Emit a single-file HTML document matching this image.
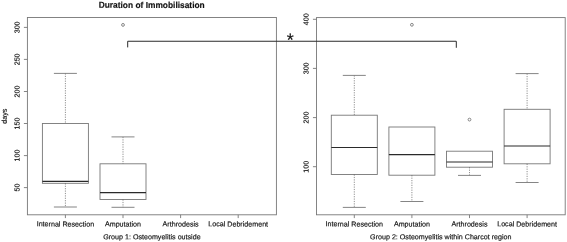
<!DOCTYPE html>
<html><head><meta charset="utf-8"><title>Duration of Immobilisation</title>
<style>
html,body{margin:0;padding:0;background:#fff;}
svg{display:block;}
text{font-family:"Liberation Sans",sans-serif;fill:#111;text-rendering:geometricPrecision;stroke:#111;stroke-width:0.16px;}
.t{font-size:7.13px;}
.ln{stroke:#777;stroke-width:0.9;fill:none;}
.med{stroke:#2a2a2a;stroke-width:1.2;fill:none;}
.dot{stroke:#555;stroke-width:0.65;fill:none;stroke-dasharray:1.2 1.2;}
.br{stroke:#2b2b2b;stroke-width:1.0;fill:none;stroke-linejoin:round;stroke-linecap:round;}
</style></head><body>
<svg width="567" height="242" viewBox="0 0 567 242">
<rect width="567" height="242" fill="#fff"/>

<rect class="ln" x="27.4" y="17.5" width="248.99999999999997" height="197.3"/>
<line class="ln" x1="23.9" x2="27.4" y1="187.6" y2="187.6"/>
<text class="t" text-anchor="middle" transform="translate(19.6,187.6) rotate(-90.05)">50</text>
<line class="ln" x1="23.9" x2="27.4" y1="155.6" y2="155.6"/>
<text class="t" text-anchor="middle" transform="translate(19.6,155.6) rotate(-90.05)">100</text>
<line class="ln" x1="23.9" x2="27.4" y1="123.5" y2="123.5"/>
<text class="t" text-anchor="middle" transform="translate(19.6,123.5) rotate(-90.05)">150</text>
<line class="ln" x1="23.9" x2="27.4" y1="91.5" y2="91.5"/>
<text class="t" text-anchor="middle" transform="translate(19.6,91.5) rotate(-90.05)">200</text>
<line class="ln" x1="23.9" x2="27.4" y1="59.4" y2="59.4"/>
<text class="t" text-anchor="middle" transform="translate(19.6,59.4) rotate(-90.05)">250</text>
<line class="ln" x1="23.9" x2="27.4" y1="27.4" y2="27.4"/>
<text class="t" text-anchor="middle" transform="translate(19.6,27.4) rotate(-90.05)">300</text>
<line class="ln" x1="65.4" x2="65.4" y1="214.8" y2="218.10000000000002"/>
<text class="t" text-anchor="middle" x="65.4" y="226.4" transform="rotate(0.05 65.4 226.4)">Internal Resection</text>
<line class="ln" x1="123.0" x2="123.0" y1="214.8" y2="218.10000000000002"/>
<text class="t" text-anchor="middle" x="123.0" y="226.4" transform="rotate(0.05 123.0 226.4)">Amputation</text>
<line class="ln" x1="180.6" x2="180.6" y1="214.8" y2="218.10000000000002"/>
<text class="t" text-anchor="middle" x="180.6" y="226.4" transform="rotate(0.05 180.6 226.4)">Arthrodesis</text>
<line class="ln" x1="238.2" x2="238.2" y1="214.8" y2="218.10000000000002"/>
<text class="t" text-anchor="middle" x="238.2" y="226.4" transform="rotate(0.05 238.2 226.4)">Local Debridement</text>
<text class="t" text-anchor="middle" x="151.9" y="239.3" transform="rotate(0.05 151.9 239.3)">Group 1: Osteomyelitis outside</text>
<text class="t" text-anchor="middle" transform="translate(6.8,116.2) rotate(-90.05)">days</text>
<rect class="ln" x="42.4" y="123.5" width="46" height="59.8"/>
<line class="med" x1="42.4" x2="88.4" y1="181.3" y2="181.3"/>
<line class="dot" x1="65.4" x2="65.4" y1="73.4" y2="123.5"/>
<line class="dot" x1="65.4" x2="65.4" y1="183.3" y2="207.0"/>
<line class="ln" x1="53.9" x2="76.9" y1="73.4" y2="73.4"/>
<line class="ln" x1="53.9" x2="76.9" y1="207.0" y2="207.0"/>
<rect class="ln" x="100.0" y="163.8" width="46" height="35.7"/>
<line class="med" x1="100.0" x2="146.0" y1="192.6" y2="192.6"/>
<line class="dot" x1="123.0" x2="123.0" y1="136.9" y2="163.8"/>
<line class="dot" x1="123.0" x2="123.0" y1="199.5" y2="207.3"/>
<line class="ln" x1="111.5" x2="134.5" y1="136.9" y2="136.9"/>
<line class="ln" x1="111.5" x2="134.5" y1="207.3" y2="207.3"/>
<circle class="ln" cx="123.0" cy="24.9" r="1.4"/>
<text text-anchor="middle" x="151.7" y="7.9" transform="rotate(0.05 151.7 7.9)" textLength="106" lengthAdjust="spacingAndGlyphs" style="font-size:8.7px;font-weight:bold;fill:#111">Duration of Immobilisation</text>
<rect class="ln" x="316.45" y="17.6" width="248.75000000000006" height="197.20000000000002"/>
<line class="ln" x1="312.95" x2="316.45" y1="166.7" y2="166.7"/>
<text class="t" text-anchor="middle" transform="translate(308.6,166.7) rotate(-90.05)">100</text>
<line class="ln" x1="312.95" x2="316.45" y1="117.6" y2="117.6"/>
<text class="t" text-anchor="middle" transform="translate(308.6,117.6) rotate(-90.05)">200</text>
<line class="ln" x1="312.95" x2="316.45" y1="68.4" y2="68.4"/>
<text class="t" text-anchor="middle" transform="translate(308.6,68.4) rotate(-90.05)">300</text>
<line class="ln" x1="312.95" x2="316.45" y1="19.3" y2="19.3"/>
<text class="t" text-anchor="middle" transform="translate(308.6,19.3) rotate(-90.05)">400</text>
<line class="ln" x1="354.3" x2="354.3" y1="214.8" y2="218.10000000000002"/>
<text class="t" text-anchor="middle" x="354.3" y="226.4" transform="rotate(0.05 354.3 226.4)">Internal Resection</text>
<line class="ln" x1="411.9" x2="411.9" y1="214.8" y2="218.10000000000002"/>
<text class="t" text-anchor="middle" x="411.9" y="226.4" transform="rotate(0.05 411.9 226.4)">Amputation</text>
<line class="ln" x1="469.5" x2="469.5" y1="214.8" y2="218.10000000000002"/>
<text class="t" text-anchor="middle" x="469.5" y="226.4" transform="rotate(0.05 469.5 226.4)">Arthrodesis</text>
<line class="ln" x1="527.1" x2="527.1" y1="214.8" y2="218.10000000000002"/>
<text class="t" text-anchor="middle" x="527.1" y="226.4" transform="rotate(0.05 527.1 226.4)">Local Debridement</text>
<text class="t" text-anchor="middle" x="440.8" y="239.3" transform="rotate(0.05 440.8 239.3)">Group 2: Osteomyelitis within Charcot region</text>
<rect class="ln" x="331.3" y="115.2" width="46" height="59.3"/>
<line class="med" x1="331.3" x2="377.3" y1="147.5" y2="147.5"/>
<line class="dot" x1="354.3" x2="354.3" y1="75.4" y2="115.2"/>
<line class="dot" x1="354.3" x2="354.3" y1="174.5" y2="207.4"/>
<line class="ln" x1="342.8" x2="365.8" y1="75.4" y2="75.4"/>
<line class="ln" x1="342.8" x2="365.8" y1="207.4" y2="207.4"/>
<rect class="ln" x="388.9" y="127.0" width="46" height="48.2"/>
<line class="med" x1="388.9" x2="434.9" y1="154.6" y2="154.6"/>
<line class="dot" x1="411.9" x2="411.9" y1="175.2" y2="201.5"/>
<line class="ln" x1="400.4" x2="423.4" y1="201.5" y2="201.5"/>
<circle class="ln" cx="411.9" cy="24.8" r="1.4"/>
<rect class="ln" x="446.5" y="151.2" width="46" height="16.0"/>
<line class="med" x1="446.5" x2="492.5" y1="162.0" y2="162.0"/>
<line class="dot" x1="469.5" x2="469.5" y1="167.2" y2="175.4"/>
<line class="ln" x1="458.0" x2="481.0" y1="175.4" y2="175.4"/>
<circle class="ln" cx="469.5" cy="119.6" r="1.4"/>
<rect class="ln" x="504.1" y="109.3" width="46" height="54.5"/>
<line class="med" x1="504.1" x2="550.1" y1="146.0" y2="146.0"/>
<line class="dot" x1="527.1" x2="527.1" y1="73.6" y2="109.3"/>
<line class="dot" x1="527.1" x2="527.1" y1="163.8" y2="182.5"/>
<line class="ln" x1="515.6" x2="538.6" y1="73.6" y2="73.6"/>
<line class="ln" x1="515.6" x2="538.6" y1="182.5" y2="182.5"/>
<path class="br" d="M127.7 47V41.25H456.3V47.4"/>
<text x="286.65" y="46.3" style="font-size:18px;fill:#111">*</text>
</svg></body></html>
